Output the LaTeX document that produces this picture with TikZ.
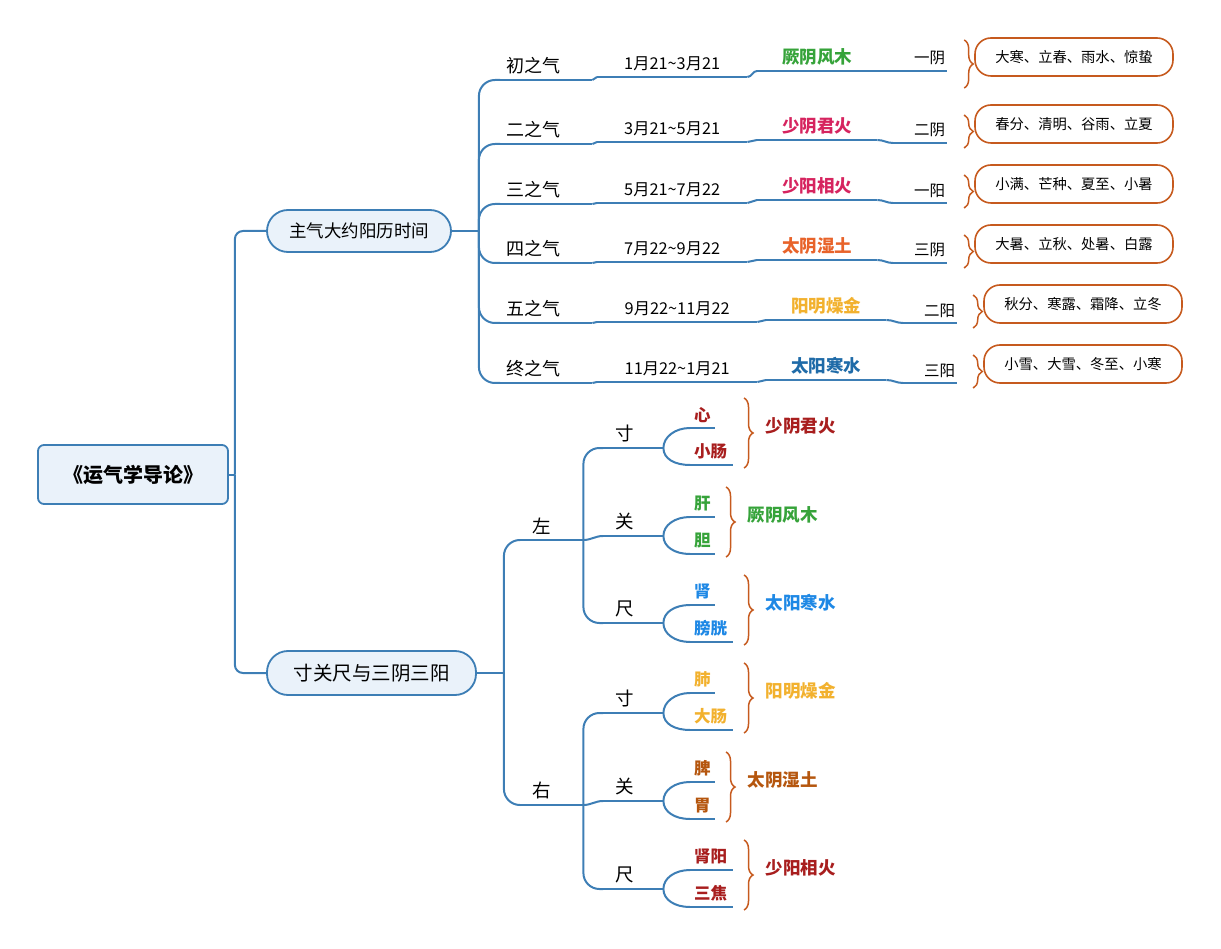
\documentclass[tikz,border=0pt]{standalone}
\usepackage{fontspec}
\setmainfont{Noto Sans CJK SC}
\usepackage{xcolor}
\usepackage{tikz}
\usetikzlibrary{positioning,calc,decorations.pathreplacing}

\definecolor{linkblue}{HTML}{3D7EB5}
\definecolor{boxfill}{HTML}{EAF2FA}
\definecolor{braceorg}{HTML}{C65A1E}
\definecolor{wood}{HTML}{36A33A}
\definecolor{fire}{HTML}{D6245F}
\definecolor{earth}{HTML}{E8632A}
\definecolor{metal}{HTML}{F2B12E}
\definecolor{water}{HTML}{1F6BA8}
\definecolor{fireB}{HTML}{A81E1E}
\definecolor{waterB}{HTML}{1E88E5}
\definecolor{earthB}{HTML}{B5560E}

\begin{document}
\begin{tikzpicture}[x=1pt, y=-1pt,
    link/.style={draw=linkblue, line width=2pt},
    curly/.style={draw=braceorg, line width=1.5pt, decorate, decoration={brace, amplitude=9pt}},
    rootbox/.style={draw=linkblue, line width=1.8pt, fill=boxfill, rounded corners=6pt,
        minimum width=190pt, minimum height=59pt, font=\fontsize{20}{24}\selectfont\bfseries},
    topic/.style={draw=linkblue, line width=1.8pt, fill=boxfill, rounded corners=21pt},
    leaf/.style={anchor=south west, inner ysep=5.5pt},
    qi/.style={leaf, inner xsep=6pt, text width=80pt, align=left, font=\fontsize{18}{21}\selectfont},
    date/.style={leaf, inner xsep=4pt, text width=142pt, align=center, font=\fontsize{16.3}{19}\selectfont},
    elem/.style={leaf, inner xsep=4pt, text width=112pt, align=center, font=\fontsize{17.5}{20}\selectfont\bfseries},
    yy/.style={leaf, inner xsep=2pt, text width=50pt, align=right, font=\fontsize{15.5}{18}\selectfont},
    jieqi/.style={draw=braceorg, line width=1.6pt, rounded corners=16pt, minimum width=198pt,
        minimum height=38pt, font=\fontsize{14.3}{17}\selectfont},
    side/.style={leaf, inner xsep=12pt, text width=39pt, align=left, font=\fontsize{18.5}{21}\selectfont},
    pulse/.style={leaf, inner xsep=12pt, text width=36pt, align=left, font=\fontsize{18.5}{21}\selectfont},
    organ/.style={leaf, inner xsep=4pt, align=left, font=\fontsize{16.5}{19}\selectfont\bfseries},
    wuxing/.style={anchor=west, xshift=21pt, yshift=7pt, inner sep=0pt, font=\fontsize{17.5}{20}\selectfont\bfseries}
]
    \useasboundingbox (0,0) rectangle (1221,949);

    % Root and first level
    \node[rootbox] (root) at (133,474.5) {《运气学导论》};
    \node[topic, minimum width=184pt, minimum height=42pt, font=\fontsize{17.5}{21}\selectfont] (zq) at (359,231) {主气大约阳历时间};
    \node[topic, minimum width=209pt, minimum height=44pt, font=\fontsize{19.5}{23}\selectfont] (cg) at (371.5,673) {寸关尺与三阴三阳};

    \coordinate (t1) at ($(root.east)+(6,0)$);
    \draw[link] (root.east) -- (t1);
    \draw[link, rounded corners=8pt] (t1) |- (zq.west);
    \draw[link, rounded corners=8pt] (t1) |- (cg.west);

    % Six qi
    \node[qi] (q1) at (500,80) {初之气};
    \node[date] (d1) at (597,77) {1月21\textasciitilde3月21};
    \node[elem, text=wood] (e1) at (757,71) {厥阴风木};
    \node[yy] (y1) at (893,71) {一阴};
    \node[jieqi] (b1) at (1074,57) {大寒、立春、雨水、惊蛰};

    \node[qi] (q2) at (500,144) {二之气};
    \node[date] (d2) at (597,142) {3月21\textasciitilde5月21};
    \node[elem, text=fire] (e2) at (757,140) {少阴君火};
    \node[yy] (y2) at (893,143) {二阴};
    \node[jieqi] (b2) at (1074,124) {春分、清明、谷雨、立夏};

    \node[qi] (q3) at (500,204) {三之气};
    \node[date] (d3) at (597,203) {5月21\textasciitilde7月22};
    \node[elem, text=fire] (e3) at (757,200) {少阳相火};
    \node[yy] (y3) at (893,203) {一阳};
    \node[jieqi] (b3) at (1074,184) {小满、芒种、夏至、小暑};

    \node[qi] (q4) at (500,263) {四之气};
    \node[date] (d4) at (597,262) {7月22\textasciitilde9月22};
    \node[elem, text=earth] (e4) at (757,260) {太阴湿土};
    \node[yy] (y4) at (893,263) {三阴};
    \node[jieqi] (b4) at (1074,244) {大暑、立秋、处暑、白露};

    \node[qi] (q5) at (500,323) {五之气};
    \node[date, text width=152pt] (d5) at (597,322) {9月22\textasciitilde11月22};
    \node[elem, text=metal] (e5) at (766,320) {阳明燥金};
    \node[yy] (y5) at (903,323) {二阳};
    \node[jieqi] (b5) at (1083,304) {秋分、寒露、霜降、立冬};

    \node[qi] (q6) at (500,383) {终之气};
    \node[date, text width=152pt] (d6) at (597,382) {11月22\textasciitilde1月21};
    \node[elem, text=water] (e6) at (766,380) {太阳寒水};
    \node[yy] (y6) at (903,383) {三阳};
    \node[jieqi] (b6) at (1083,364) {小雪、大雪、冬至、小寒};

    \coordinate (t2) at ($(zq.east)+(27,0)$);
    \draw[link] (zq.east) -- (t2);
    \foreach \r in {1,...,6} {
        \foreach \k in {q,d,e,y}
            \draw[link] (\k\r.south west) -- (\k\r.south east);
        \draw[link, rounded corners=16pt] (t2) |- (q\r.south west);
        \draw[link] (q\r.south east) to[out=0,in=180] (d\r.south west);
        \draw[link] (d\r.south east) to[out=0,in=180] (e\r.south west);
        \draw[link] (e\r.south east) to[out=0,in=180] (y\r.south west);
    }
    \foreach \r/\ya/\yb in {1/-17/31, 2/-9/24, 3/-9/24, 4/-9/24, 5/-9/24, 6/-9/24}
        \draw[curly] ($(b\r.west)+(-10,\ya)$) -- ($(b\r.west)+(-10,\yb)$);

    % Left and right hand
    \node[side] (zuo) at (520,540) {左};
    \node[side] (you) at (520,805) {右};
    \node[pulse] (lc) at (603,448) {寸};
    \node[pulse] (lg) at (603,536) {关};
    \node[pulse] (lch) at (603,623) {尺};
    \node[pulse] (rc) at (603,713) {寸};
    \node[pulse] (rg) at (603,801) {关};
    \node[pulse] (rch) at (603,889) {尺};

    \node[organ, text width=17pt, text=fireB] (lc-a) at (690,428) {心};
    \node[organ, text width=35pt, text=fireB] (lc-b) at (690,465) {小肠};
    \node[organ, text width=17pt, text=wood] (lg-a) at (690,517) {肝};
    \node[organ, text width=17pt, text=wood] (lg-b) at (690,554) {胆};
    \node[organ, text width=17pt, text=waterB] (lch-a) at (690,605) {肾};
    \node[organ, text width=35pt, text=waterB] (lch-b) at (690,642) {膀胱};
    \node[organ, text width=17pt, text=metal] (rc-a) at (690,693) {肺};
    \node[organ, text width=35pt, text=metal] (rc-b) at (690,730) {大肠};
    \node[organ, text width=17pt, text=earthB] (rg-a) at (690,782) {脾};
    \node[organ, text width=17pt, text=earthB] (rg-b) at (690,819) {胃};
    \node[organ, text width=35pt, text=fireB] (rch-a) at (690,870) {肾阳};
    \node[organ, text width=35pt, text=fireB] (rch-b) at (690,907) {三焦};

    \coordinate (t3) at ($(cg.east)+(27,0)$);
    \draw[link] (cg.east) -- (t3);
    \foreach \s in {zuo,you} {
        \draw[link] (\s.south west) -- (\s.south east);
        \draw[link, rounded corners=16pt] (t3) |- (\s.south west);
    }
    \foreach \s/\c/\g/\h in {zuo/lc/lg/lch, you/rc/rg/rch} {
        \draw[link, rounded corners=16pt] (\s.south east) |- (\c.south west);
        \draw[link] (\s.south east) to[out=0,in=180] (\g.south west);
        \draw[link, rounded corners=16pt] (\s.south east) |- (\h.south west);
    }
    \foreach \p/\ua/\ub/\bx/\cl/\el in {lc/428/465/744/fireB/少阴君火, lg/517/554/726/wood/厥阴风木,
        lch/605/642/744/waterB/太阳寒水, rc/693/730/744/metal/阳明燥金,
        rg/782/819/726/earthB/太阴湿土, rch/870/907/744/fireB/少阳相火} {
        \foreach \n in {\p,\p-a,\p-b}
            \draw[link] (\n.south west) -- (\n.south east);
        \draw[link] (\p.south east) .. controls +(0,-11) and +(-15,0) .. (\p-a.south west);
        \draw[link] (\p.south east) .. controls +(0,11) and +(-15,0) .. (\p-b.south west);
        \draw[curly] (\bx,{\ua-30}) -- node[wuxing, text=\cl] (f-\p) {\el} (\bx,{\ub+3});
    }
\end{tikzpicture}
\end{document}
